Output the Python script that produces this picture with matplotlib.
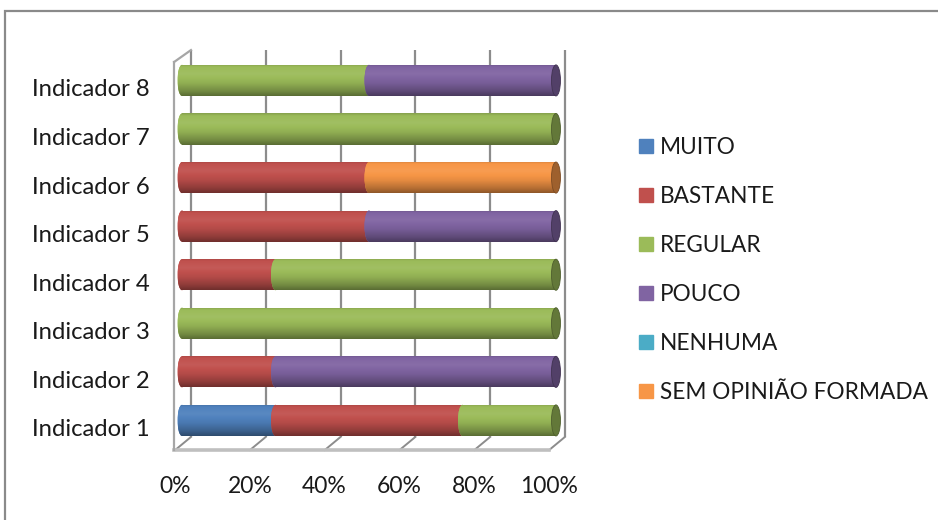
import numpy as np
import matplotlib
matplotlib.use("Agg")
import matplotlib.pyplot as plt
from matplotlib.patches import Ellipse, Rectangle
from matplotlib.colors import to_rgb
from matplotlib.lines import Line2D
from matplotlib.transforms import ScaledTranslation

plt.rcParams['font.family'] = ['Lato', 'DejaVu Sans']

# ---- data -------------------------------------------------------------
categories = ["Indicador 1", "Indicador 2", "Indicador 3", "Indicador 4",
              "Indicador 5", "Indicador 6", "Indicador 7", "Indicador 8"]
series_names = ["MUITO", "BASTANTE", "REGULAR", "POUCO", "NENHUMA",
                "SEM OPINIÃO FORMADA"]
muito       = [25, 0, 0, 0, 0, 0, 0, 0]
bastante    = [50, 25, 0, 25, 50, 50, 0, 0]
regular     = [25, 0, 100, 75, 0, 0, 100, 50]
pouco       = [0, 75, 0, 0, 50, 0, 0, 50]
nenhuma     = [0, 0, 0, 0, 0, 0, 0, 0]
sem_opiniao = [0, 0, 0, 0, 0, 50, 0, 0]
x_ticks = [0, 20, 40, 60, 80, 100]
x_tick_labels = ["0%", "20%", "40%", "60%", "80%", "100%"]

series_values = [muito, bastante, regular, pouco, nenhuma, sem_opiniao]
colors = ["#4F81BD", "#C0504D", "#9BBB59", "#8064A2", "#4BACC6", "#F79646"]

# ---- styling constants -------------------------------------------------
BAR_H = 0.64          # cylinder thickness (category units)
BAR_LIFT = 0.155      # cylinders sit a little behind the category line
CAP_W = 2.4           # width of the elliptical end caps (value units)
DX_BACK, DY_BACK = 2.4, -0.185     # back wall / floor corner
DX_FRONT, DY_FRONT = -1.8, -0.453  # front floor edge
WALL_TOP = 7.78
XLIM = (-5, 106)
YLIM = (-0.6, 7.8)
GRID_C = "#8C8C8C"

fig = plt.figure(figsize=(9.38, 5.2), dpi=100)
W, H = 938, 520

# chart border
fig.add_artist(Rectangle((5 / W, -0.1), 1.2, 1.1 - 11 / H, transform=fig.transFigure,
                         fill=False, edgecolor="#8A8A8A", lw=1.6))

ax = fig.add_axes([163.3 / W, (H - 457.1) / H, 415.1 / W, 408 / H])
for s in ax.spines.values():
    s.set_visible(False)
ax.patch.set_visible(False)

# ---- 3D walls and floor ----------------------------------------------
for t in x_ticks:
    ax.plot([t + DX_BACK, t + DX_BACK], [DY_BACK, WALL_TOP], color=GRID_C, lw=1.6,
            zorder=1, clip_on=False, solid_capstyle="butt")
    ax.plot([t + DX_BACK, t + DX_FRONT], [DY_BACK, DY_FRONT], color=GRID_C, lw=1.4,
            zorder=1, clip_on=False)
ax.plot([DX_FRONT - 0.3, 100 + DX_FRONT], [DY_FRONT, DY_FRONT], color="#BFBFBF", lw=2.6,
        zorder=1, clip_on=False)
ax.plot([DX_FRONT - 0.3, DX_FRONT - 0.3], [DY_FRONT, 7.535], color="#A6A6A6", lw=1.6,
        zorder=1, clip_on=False)
ax.plot([DX_FRONT - 0.3, DX_BACK], [7.535, WALL_TOP], color="#A6A6A6", lw=1.6,
        zorder=1, clip_on=False)


def shade(color, n=64):
    """Vertical cylinder shading, top row first."""
    c = np.array(to_rgb(color))
    t = np.linspace(0, 1, n)
    f = np.interp(t, [0, 0.08, 0.3, 0.6, 0.85, 1.0],
                  [0.86, 1.0, 1.06, 0.93, 0.74, 0.58])
    rows = []
    for v in f:
        if v >= 1:
            rows.append(c + (1 - c) * (v - 1))
        else:
            rows.append(c * v)
    return np.clip(np.array(rows), 0, 1)[:, None, :]


y_pos = np.arange(len(categories))
bar_y = y_pos + BAR_LIFT
left = np.zeros(len(categories))
ends = np.zeros(len(categories))
end_color = [None] * len(categories)

for vals, col in zip(series_values, colors):
    vals = np.asarray(vals, dtype=float)
    bars = ax.barh(bar_y, vals, left=left, height=BAR_H, color=col,
                   linewidth=0, zorder=3)
    img = shade(col)
    for i, (b, v) in enumerate(zip(bars, vals)):
        if v <= 0:
            b.set_visible(False)
            continue
        x0, x1 = left[i], left[i] + v
        yc = bar_y[i]
        # rounded left side of the cylinder segment
        el = Ellipse((x0, yc), CAP_W, BAR_H, facecolor=col, lw=0, zorder=3)
        ax.add_patch(el)
        im1 = ax.imshow(img, extent=(x0 - CAP_W / 2, x0 + CAP_W / 2,
                                     yc - BAR_H / 2, yc + BAR_H / 2),
                        aspect="auto", origin="upper", zorder=3, interpolation="bilinear")
        im1.set_clip_path(el)
        im2 = ax.imshow(img, extent=(x0, x1, yc - BAR_H / 2, yc + BAR_H / 2),
                        aspect="auto", origin="upper", zorder=3, interpolation="bilinear")
        im2.set_clip_path(b)
        ends[i] = x1
        end_color[i] = col
    left = left + vals

# visible end caps on the right
for i, yc in enumerate(bar_y):
    if end_color[i] is None:
        continue
    c = np.array(to_rgb(end_color[i]))
    ax.add_patch(Ellipse((ends[i], yc), CAP_W, BAR_H, facecolor=c * 0.64,
                         edgecolor=c * 0.5, lw=0.6, zorder=4))

ax.set_xlim(*XLIM)
ax.set_ylim(*YLIM)

# ---- axes labels ------------------------------------------------------
ax.set_yticks(y_pos)
ax.set_yticklabels(categories, fontsize=17.2, color="#1a1a1a")
ax.set_xticks(x_ticks)
ax.set_xticklabels(x_tick_labels, fontsize=16.5, color="#1a1a1a")
ax.tick_params(axis="both", length=0)
ax.tick_params(axis="y", pad=9.5)
ax.tick_params(axis="x", pad=13.3)
for lab in ax.get_xticklabels():
    lab.set_transform(lab.get_transform() + ScaledTranslation(-7 / 100, 0, fig.dpi_scale_trans))

# ---- legend -------------------------------------------------------------
handles = [Line2D([], [], marker="s", linestyle="none", markersize=9.4,
                  markerfacecolor=c, markeredgecolor=c) for c in colors]
fig.legend(handles, series_names, loc="upper left",
           bbox_to_anchor=(638.4 / W, 1 - 137.4 / H), frameon=False,
           fontsize=16.3, handlelength=0.7, handletextpad=0.24,
           labelspacing=1.23, borderpad=0, borderaxespad=0, labelcolor="#1a1a1a")

fig.savefig("out.png", dpi=100)
